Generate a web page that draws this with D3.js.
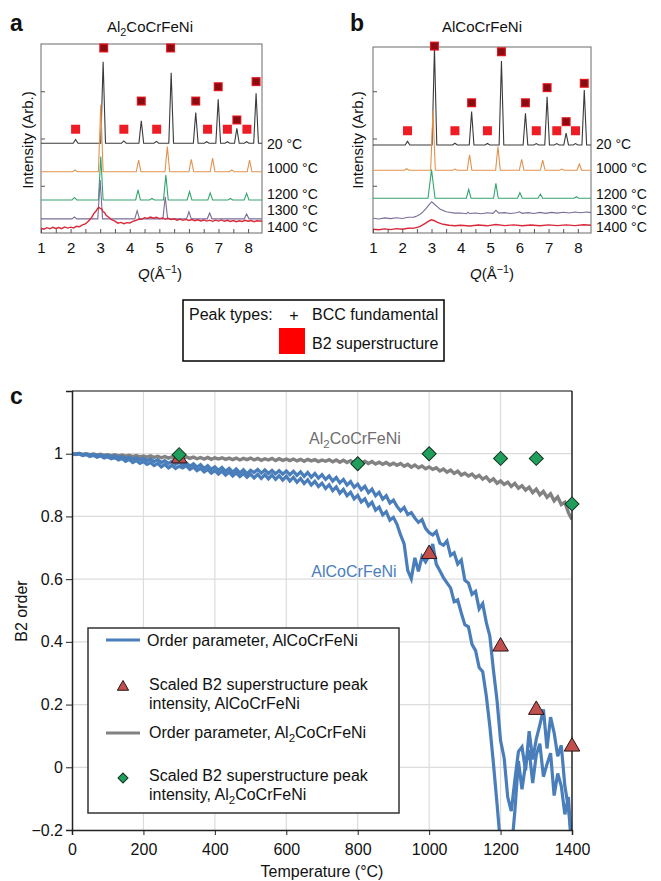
<!DOCTYPE html>
<html lang="en">
<head>
<meta charset="UTF-8">
<title>B2 order in AlCoCrFeNi alloys</title>
<script src="https://cdn.jsdelivr.net/npm/d3@7"></script>
<style>
body { margin: 0; background: #fff; }
svg { font-family: "Liberation Sans", Arial, Helvetica, sans-serif; }
text { fill: #111; }
</style>
</head>
<body>
<script>
// ---------- panels a, b : diffraction traces ----------
var tempLabels = ["20 °C", "1000 °C", "1200 °C", "1300 °C", "1400 °C"];
var traceColors = ["#3a3a3a", "#e3924e", "#34a46e", "#7a6c97", "#d8283a"];
var qTicks = [1, 2, 3, 4, 5, 6, 7, 8];

// baseline intensity of the sharp-peak traces (arb. units 0-100)
var baseA = [47.5, 32.4, 17.5, 7.5];
var baseB = [46.6, 33.2, 18.4];

// peaks: [Q, top intensity, optional half width]
var peaksA20 = [[2.17, 49.5], [3.1, 90.6], [3.8, 48.7], [4.39, 59.4], [4.9, 48.5], [5.4, 84.8], [6.23, 63.7],
    [6.6, 48.3], [6.99, 70.7], [7.3, 48.3], [7.62, 55.4], [7.95, 48.3], [8.27, 73.9]];
var peaksA1000 = [[2.15, 33.4], [3.02, 67.8], [4.3, 38.6], [5.27, 45.7], [6.08, 39], [6.8, 39.6], [7.45, 33.4], [8.05, 38.6]];
var peaksA1200 = [[2.13, 18.8], [3.02, 40.4], [4.28, 22.8], [4.75, 18.3], [5.22, 30.7], [6.02, 21.9], [6.72, 21.2], [7.4, 18.3], [7.95, 21]];
var peaksA1300 = [[2.13, 8.5], [3.0, 28], [4.25, 11.8], [5.2, 19.2], [6.0, 11.3], [6.7, 10.6], [7.95, 10]];
var traceA1400 = [[1.0, 2.5], [1.1, 2.0], [1.2, 2.8], [1.3, 2.2], [1.4, 3.0], [1.5, 2.4], [1.6, 2.9], [1.7, 2.3], [1.8, 3.2],
    [1.9, 2.6], [2.0, 3.1], [2.1, 2.7], [2.2, 3.6], [2.3, 3.3], [2.4, 4.3], [2.5, 4.8], [2.6, 6.2], [2.7, 7.9], [2.8, 10.6],
    [2.85, 11.4], [2.9, 12.6], [2.95, 13.6], [3.0, 13.0], [3.05, 12.8], [3.1, 11.2], [3.15, 10.8], [3.2, 9.4], [3.3, 8.2],
    [3.4, 6.9], [3.5, 6.3], [3.6, 5.2], [3.7, 5.6], [3.8, 4.9], [3.9, 5.5], [4.0, 5.3], [4.1, 6.2], [4.2, 6.6], [4.3, 7.4],
    [4.4, 7.2], [4.5, 8.1], [4.6, 7.7], [4.7, 8.4], [4.8, 7.8], [4.9, 8.3], [5.0, 7.6], [5.1, 8.0], [5.2, 7.3], [5.3, 7.8],
    [5.4, 7.1], [5.5, 7.5], [5.6, 6.8], [5.7, 7.3], [5.8, 6.7], [5.9, 7.2], [6.0, 6.6], [6.1, 7.1], [6.2, 6.5], [6.3, 7.0],
    [6.4, 6.4], [6.5, 6.9], [6.6, 6.3], [6.7, 6.8], [6.8, 6.2], [6.9, 6.8], [7.0, 6.3], [7.1, 6.9], [7.2, 6.2], [7.3, 6.7],
    [7.4, 6.1], [7.5, 6.6], [7.6, 6.0], [7.7, 6.5], [7.8, 6.1], [7.9, 6.7], [8.0, 6.2], [8.1, 6.6], [8.2, 6.0], [8.3, 6.5], [8.47, 6.2]];

var peaksB20 = [[2.18, 48.5], [3.1, 98], [3.8, 47.5], [4.37, 64.2], [4.91, 47.4], [5.39, 91], [6.21, 63.3],
    [6.58, 47.3], [6.95, 72.1], [7.28, 47.3], [7.6, 52.9], [7.92, 47.3], [8.22, 75.7]];
var peaksB1000 = [[2.15, 34], [3.05, 65], [3.8, 33.8], [4.3, 41.3], [5.27, 45.7], [6.08, 39], [6.8, 38.6], [7.45, 33.8], [8.05, 36.5]];
var peaksB1200 = [[3.0, 33.5, 0.12], [4.27, 23.1], [5.2, 26.3], [6.02, 21.3], [6.72, 20.6], [7.95, 19.2]];
var traceB1300 = [[1.0, 7.8], [1.2, 7.4], [1.4, 8.0], [1.6, 7.6], [1.8, 8.1], [2.0, 7.7], [2.2, 8.3], [2.4, 8.4], [2.5, 9.0],
    [2.6, 9.8], [2.7, 11.0], [2.8, 12.8], [2.9, 14.6], [3.0, 16.4], [3.05, 16.0], [3.1, 15.2], [3.2, 13.8], [3.3, 12.6],
    [3.4, 11.9], [3.5, 11.2], [3.6, 11.0], [3.8, 10.5], [4.0, 10.6], [4.2, 10.2], [4.25, 11.0], [4.3, 10.3], [4.5, 10.6],
    [4.7, 10.2], [4.9, 10.7], [5.1, 10.4], [5.2, 12.0], [5.3, 10.5], [5.5, 10.8], [5.7, 10.3], [5.9, 10.7], [6.0, 11.2],
    [6.1, 10.4], [6.3, 10.8], [6.5, 10.3], [6.7, 10.9], [6.9, 10.4], [7.1, 10.9], [7.3, 10.5], [7.5, 11.0], [7.7, 10.6],
    [7.9, 11.1], [8.1, 10.7], [8.3, 11.1], [8.45, 10.8]];
var traceB1400 = [[1.0, 2.0], [1.2, 1.7], [1.4, 2.2], [1.6, 1.8], [1.8, 2.3], [2.0, 2.0], [2.2, 2.5], [2.4, 2.6], [2.6, 3.4],
    [2.8, 5.2], [2.9, 6.3], [3.0, 7.0], [3.1, 6.5], [3.2, 5.6], [3.4, 4.6], [3.6, 4.1], [3.8, 3.8], [4.0, 4.1], [4.3, 3.7],
    [4.6, 4.2], [4.9, 3.8], [5.2, 4.5], [5.5, 3.9], [5.8, 4.3], [6.1, 3.8], [6.4, 4.2], [6.7, 3.8], [7.0, 4.3], [7.3, 3.9],
    [7.6, 4.3], [7.9, 3.9], [8.2, 4.4], [8.45, 4.1]];

// peak markers [Q, intensity]: B2 superstructure only, and B2 + BCC fundamental
var b2OnlyA = [[2.17, 54.9], [3.8, 54.9], [4.91, 54.9], [6.63, 54.9], [7.3, 54.9], [7.96, 54.9]];
var b2BccA = [[3.12, 97.9], [5.38, 97.9], [4.39, 69.8], [6.23, 69.8], [6.99, 77.4], [7.62, 59.8], [8.27, 80.1]];
var b2OnlyB = [[2.18, 54.1], [3.8, 54.1], [4.91, 54.1], [6.58, 54.1], [7.28, 54.1], [7.92, 54.1]];
var b2BccB = [[3.1, 98.9], [5.39, 95.9], [4.37, 68.9], [6.21, 68.9], [6.95, 76.9], [7.6, 58.9], [8.22, 79.2]];

// ---------- panel c : B2 order vs temperature (10 °C steps from 0 to 1400) ----------
var orderStep = 10;
var orderAlUp = [
    1.000, 0.998, 1.001, 0.997, 0.999, 0.995, 0.998, 0.994, 0.996, 0.992, 0.995,
    0.990, 0.993, 0.988, 0.991, 0.985, 0.989, 0.983, 0.987, 0.980, 0.985,
    0.978, 0.983, 0.975, 0.981, 0.972, 0.978, 0.969, 0.976, 0.966, 0.973,
    0.964, 0.971, 0.960, 0.968, 0.957, 0.965, 0.953, 0.962, 0.950, 0.958,
    0.947, 0.956, 0.944, 0.953, 0.941, 0.951, 0.939, 0.949, 0.936, 0.947,
    0.940, 0.950, 0.938, 0.948, 0.937, 0.947, 0.936, 0.946, 0.935, 0.945,
    0.933, 0.944, 0.931, 0.942, 0.928, 0.940, 0.925, 0.937, 0.922, 0.933,
    0.918, 0.929, 0.913, 0.924, 0.907, 0.918, 0.900, 0.911, 0.893, 0.903,
    0.885, 0.896, 0.876, 0.887, 0.866, 0.877, 0.855, 0.866, 0.843, 0.852,
    0.832, 0.818, 0.829, 0.806, 0.812, 0.795, 0.781, 0.790, 0.762, 0.748,
    0.741, 0.752, 0.715, 0.708, 0.722, 0.676, 0.684, 0.648, 0.661, 0.596,
    0.588, 0.552, 0.561, 0.505, 0.522, 0.462, 0.418, 0.310, 0.214, 0.085,
    0.030, -0.095, -0.140, -0.040, 0.050, 0.065, -0.010, 0.115, 0.025, 0.090,
    0.135, 0.185, 0.060, 0.160, 0.110, 0.035, 0.070, -0.060, -0.130, -0.250];
var orderAlDown = [
    1.000, 0.997, 0.999, 0.994, 0.997, 0.991, 0.995, 0.989, 0.993, 0.986, 0.990,
    0.984, 0.988, 0.980, 0.985, 0.976, 0.982, 0.972, 0.978, 0.969, 0.975,
    0.966, 0.972, 0.962, 0.969, 0.958, 0.966, 0.955, 0.963, 0.953, 0.960,
    0.955, 0.962, 0.950, 0.957, 0.946, 0.953, 0.942, 0.950, 0.938, 0.946,
    0.935, 0.944, 0.932, 0.941, 0.929, 0.939, 0.927, 0.937, 0.925, 0.935,
    0.923, 0.934, 0.921, 0.933, 0.920, 0.932, 0.918, 0.930, 0.916, 0.928,
    0.913, 0.925, 0.909, 0.921, 0.905, 0.917, 0.900, 0.912, 0.895, 0.906,
    0.889, 0.901, 0.882, 0.894, 0.874, 0.886, 0.866, 0.877, 0.856, 0.867,
    0.846, 0.856, 0.834, 0.845, 0.820, 0.830, 0.805, 0.815, 0.788, 0.797,
    0.775, 0.741, 0.712, 0.628, 0.601, 0.668, 0.625, 0.672, 0.655, 0.676,
    0.712, 0.648, 0.627, 0.605, 0.588, 0.572, 0.528, 0.534, 0.492, 0.455,
    0.448, 0.392, 0.372, 0.318, 0.305, 0.228, 0.130, 0.012, -0.115, -0.250,
    -0.300, -0.210, -0.270, -0.140, 0.020, -0.070, 0.010, 0.055, -0.050, 0.040,
    0.075, -0.030, 0.010, 0.045, -0.090, -0.020, -0.060, -0.150, -0.095, -0.280];
var orderAl2 = [
    1.000, 0.999, 1.001, 0.998, 1.000, 0.997, 0.999, 0.996, 0.998, 0.995, 0.997,
    0.994, 0.997, 0.993, 0.996, 0.992, 0.995, 0.991, 0.994, 0.990, 0.993,
    0.989, 0.993, 0.988, 0.992, 0.987, 0.991, 0.986, 0.990, 0.985, 0.989,
    0.986, 0.990, 0.985, 0.989, 0.984, 0.988, 0.983, 0.988, 0.982, 0.987,
    0.983, 0.987, 0.982, 0.986, 0.981, 0.986, 0.980, 0.985, 0.981, 0.986,
    0.980, 0.985, 0.979, 0.984, 0.980, 0.985, 0.978, 0.984, 0.979, 0.983,
    0.978, 0.983, 0.977, 0.982, 0.976, 0.982, 0.977, 0.981, 0.975, 0.980,
    0.976, 0.981, 0.974, 0.980, 0.973, 0.979, 0.972, 0.978, 0.971, 0.977,
    0.970, 0.976, 0.969, 0.975, 0.967, 0.973, 0.966, 0.972, 0.964, 0.970,
    0.963, 0.969, 0.960, 0.966, 0.957, 0.964, 0.955, 0.961, 0.952, 0.958,
    0.950, 0.955, 0.945, 0.951, 0.941, 0.948, 0.937, 0.944, 0.932, 0.938,
    0.929, 0.935, 0.924, 0.931, 0.919, 0.926, 0.912, 0.920, 0.906, 0.913,
    0.902, 0.909, 0.896, 0.905, 0.890, 0.898, 0.884, 0.893, 0.876, 0.887,
    0.869, 0.880, 0.861, 0.872, 0.850, 0.862, 0.838, 0.845, 0.812, 0.790];

var triTemps = [300, 1000, 1200, 1300, 1400];
var triValues = [0.985, 0.68, 0.385, 0.183, 0.066];
var diaTemps = [300, 800, 1000, 1200, 1300, 1400];
var diaValues = [0.997, 0.968, 1.0, 0.985, 0.985, 0.84];
var tempTicks = [0, 200, 400, 600, 800, 1000, 1200, 1400];
var orderTicks = [-0.2, 0, 0.2, 0.4, 0.6, 0.8, 1];

var blue = "#4a7ebb", gray = "#828282", triFill = "#c0504d", diaFill = "#1f9e5c";

var svg = d3.select("body").append("svg").attr("width", 661).attr("height", 881);
svg.append("rect").attr("width", 661).attr("height", 881).attr("fill", "#fff");

// text with one subscript digit after "_"
function formula(t, s) {
    var m = s.split("_");
    if (m.length === 1) { t.text(s); return t; }
    t.append("tspan").text(m[0]);
    t.append("tspan").attr("font-size", "72%").attr("dy", 4).text(m[1].charAt(0));
    t.append("tspan").attr("dy", -4).text(m[1].slice(1));
    return t;
}

function peakTrace(base, peaks, qMax) {
    var pts = [[1, base]];
    peaks.forEach(function (p) {
        var hw = p[2] || 0.08;
        pts.push([p[0] - hw, base], [p[0], p[1]], [p[0] + hw, base]);
    });
    pts.push([qMax, base]);
    return pts;
}

function drawXrd(p) {
    var x = d3.scaleLinear().domain([1, p.qMax]).range([p.left, p.right]);
    var y = d3.scaleLinear().domain([0, 100]).range([233, 44]);
    var g = svg.append("g");

    g.append("rect").attr("x", p.left).attr("y", p.top).attr("width", p.right - p.left).attr("height", 233 - p.top)
        .attr("fill", "none").attr("stroke", "#6a6a6a").attr("stroke-width", 1);

    var line = d3.line().x(function (d) { return x(d[0]); }).y(function (d) { return y(d[1]); });
    p.traces.forEach(function (t, i) {
        g.append("path").attr("d", line(t)).attr("fill", "none")
            .attr("stroke", traceColors[i]).attr("stroke-width", i === 4 ? 1.4 : 1.1);
    });

    g.selectAll(".b2").data(p.b2).enter().append("rect")
        .attr("x", function (d) { return x(d[0]) - 4.5; }).attr("y", function (d) { return y(d[1]) - 4.5; })
        .attr("width", 9).attr("height", 9).attr("fill", "#ee1c24");
    var both = g.selectAll(".both").data(p.both).enter().append("g")
        .attr("transform", function (d) { return "translate(" + x(d[0]) + "," + y(d[1]) + ")"; });
    both.append("rect").attr("x", -4.5).attr("y", -4.5).attr("width", 9).attr("height", 9).attr("fill", "#e3161e");
    both.append("rect").attr("x", -3.3).attr("y", -3.3).attr("width", 6.6).attr("height", 6.6).attr("fill", "#8a0b12");

    var xAxis = d3.axisBottom(x).tickValues(d3.range(1, 8.01, 0.5)).tickSize(-4).tickPadding(9.5)
        .tickFormat(function (d) { return qTicks.indexOf(d) >= 0 ? d : ""; });
    var ax = g.append("g").attr("transform", "translate(0,233)").call(xAxis);
    ax.select(".domain").remove();
    ax.selectAll("line").attr("stroke", "#555");
    ax.selectAll("text").attr("font-size", 15).attr("font-family", null).style("fill", "#111");

    var yAxis = d3.axisLeft(y).tickValues([25, 50, 75]).tickSize(-4).tickFormat("");
    var ay = g.append("g").attr("transform", "translate(" + p.left + ",0)").call(yAxis);
    ay.select(".domain").remove();
    ay.selectAll("line").attr("stroke", "#555");

    tempLabels.forEach(function (t, i) {
        g.append("text").attr("x", p.right + 5).attr("y", p.labelY[i]).attr("dy", "0.35em")
            .attr("font-size", 14).text(t);
    });

    g.append("text").attr("x", p.letterX).attr("y", 31).attr("font-size", 23).attr("font-weight", "bold").text(p.letter);
    formula(g.append("text").attr("x", p.titleX).attr("y", 32).attr("text-anchor", "middle").attr("font-size", 15), p.title);

    var ql = g.append("text").attr("x", p.qLabelX).attr("y", 279).attr("text-anchor", "middle").attr("font-size", 15);
    ql.append("tspan").attr("font-style", "italic").text("Q");
    ql.append("tspan").text("(Å");
    ql.append("tspan").attr("font-size", "72%").attr("dy", -6).text("−1");
    ql.append("tspan").attr("dy", 6).text(")");

    g.append("text").attr("transform", "translate(" + p.yLabelX + ",140) rotate(-90)")
        .attr("text-anchor", "middle").attr("dy", "0.35em").attr("font-size", 15).text("Intensity (Arb.)");
}

drawXrd({
    left: 41, right: 262, top: 44, qMax: 8.47, letter: "a", letterX: 10, title: "Al_2CoCrFeNi", titleX: 150,
    qLabelX: 160, yLabelX: 28, labelY: [144, 168, 194.5, 210.5, 227],
    traces: [peakTrace(baseA[0], peaksA20, 8.47), peakTrace(baseA[1], peaksA1000, 8.47),
        peakTrace(baseA[2], peaksA1200, 8.47), peakTrace(baseA[3], peaksA1300, 8.47), traceA1400],
    b2: b2OnlyA, both: b2BccA
});
drawXrd({
    left: 373, right: 591, top: 47, qMax: 8.45, letter: "b", letterX: 350, title: "AlCoCrFeNi", titleX: 482,
    qLabelX: 492, yLabelX: 358, labelY: [144, 168, 194.5, 210.5, 227],
    traces: [peakTrace(baseB[0], peaksB20, 8.45), peakTrace(baseB[1], peaksB1000, 8.45),
        peakTrace(baseB[2], peaksB1200, 8.45), traceB1300, traceB1400],
    b2: b2OnlyB, both: b2BccB
});

// peak type key
var key = svg.append("g");
key.append("rect").attr("x", 183).attr("y", 300).attr("width", 261).attr("height", 61)
    .attr("fill", "#fff").attr("stroke", "#000").attr("stroke-width", 1.5);
key.append("text").attr("x", 189).attr("y", 314).attr("dy", "0.35em").attr("font-size", 16).text("Peak types:");
key.append("text").attr("x", 294).attr("y", 315).attr("dy", "0.35em").attr("text-anchor", "middle").attr("font-size", 16).text("+");
key.append("text").attr("x", 312).attr("y", 314).attr("dy", "0.35em").attr("font-size", 16).text("BCC fundamental");
key.append("rect").attr("x", 279).attr("y", 328).attr("width", 26).attr("height", 26).attr("fill", "#ff0000");
key.append("text").attr("x", 312).attr("y", 343).attr("dy", "0.35em").attr("font-size", 16).text("B2 superstructure");

// ---------- panel c ----------
var cx = d3.scaleLinear().domain([0, 1400]).range([72, 572]);
var cy = d3.scaleLinear().domain([-0.2, 1.2]).range([830, 391]);
var c = svg.append("g");

c.append("defs").append("clipPath").attr("id", "clipc").append("rect")
    .attr("x", 72).attr("y", 391).attr("width", 500).attr("height", 439);

c.selectAll(".vg").data(tempTicks.slice(1, -1)).enter().append("line")
    .attr("x1", function (d) { return cx(d); }).attr("x2", function (d) { return cx(d); })
    .attr("y1", 391).attr("y2", 830).attr("stroke", "#dcdcdc").attr("stroke-width", 1.2);
c.selectAll(".hg").data(orderTicks.slice(1)).enter().append("line")
    .attr("y1", function (d) { return cy(d); }).attr("y2", function (d) { return cy(d); })
    .attr("x1", 72).attr("x2", 572).attr("stroke", "#dcdcdc").attr("stroke-width", 1.2);

var oline = d3.line().x(function (d, i) { return cx(i * orderStep); }).y(function (d) { return cy(d); });
var lines = c.append("g").attr("clip-path", "url(#clipc)");
lines.append("path").attr("d", oline(orderAl2)).attr("fill", "none").attr("stroke", gray).attr("stroke-width", 3.4);
lines.append("path").attr("d", oline(orderAlDown)).attr("fill", "none").attr("stroke", blue).attr("stroke-width", 3.2);
lines.append("path").attr("d", oline(orderAlUp)).attr("fill", "none").attr("stroke", blue).attr("stroke-width", 3.2);

// frame
c.append("line").attr("x1", 72).attr("x2", 572).attr("y1", 391).attr("y2", 391).attr("stroke", "#5a5a5a").attr("stroke-width", 1.5);
c.append("line").attr("x1", 572).attr("x2", 572).attr("y1", 391).attr("y2", 830).attr("stroke", "#222").attr("stroke-width", 1.5);

var tri = d3.symbol().type(d3.symbolTriangle).size(105);
c.selectAll(".tri").data(triTemps).enter().append("path").attr("d", tri)
    .attr("transform", function (d, i) { return "translate(" + cx(d) + "," + cy(triValues[i]) + ")"; })
    .attr("fill", triFill).attr("stroke", "#2a1414").attr("stroke-width", 1);
var dia = d3.symbol().type(d3.symbolSquare).size(98);
c.selectAll(".dia").data(diaTemps).enter().append("path").attr("d", dia)
    .attr("transform", function (d, i) { return "translate(" + cx(d) + "," + cy(diaValues[i]) + ") rotate(45)"; })
    .attr("fill", diaFill).attr("stroke", "#14301e").attr("stroke-width", 1);

var cax = c.append("g").attr("transform", "translate(0,830)")
    .call(d3.axisBottom(cx).tickValues(tempTicks).tickSize(5).tickPadding(8.5).tickFormat(d3.format("d")));
var cay = c.append("g").attr("transform", "translate(72,0)")
    .call(d3.axisLeft(cy).tickValues(orderTicks).tickSize(6).tickPadding(3).tickFormat(d3.format("~g")));
[cax, cay].forEach(function (a) {
    a.select(".domain").attr("stroke", "#222").attr("stroke-width", 1.5);
    a.selectAll("line").attr("stroke", "#222");
    a.selectAll("text").attr("font-size", 16).attr("font-family", null).style("fill", "#111");
});

c.append("text").attr("x", 10).attr("y", 404).attr("font-size", 23).attr("font-weight", "bold").text("c");
c.append("text").attr("x", 322).attr("y", 877).attr("text-anchor", "middle").attr("font-size", 16).text("Temperature (°C)");
c.append("text").attr("transform", "translate(21,611) rotate(-90)").attr("text-anchor", "middle")
    .attr("dy", "0.35em").attr("font-size", 16).text("B2 order");

formula(c.append("text").attr("x", 355).attr("y", 444).attr("text-anchor", "middle").attr("font-size", 16)
    .style("fill", "#6e6e6e"), "Al_2CoCrFeNi");
c.append("text").attr("x", 354).attr("y", 577).attr("text-anchor", "middle").attr("font-size", 16)
    .style("fill", blue).text("AlCoCrFeNi");

// legend
var lg = c.append("g");
lg.append("rect").attr("x", 88).attr("y", 628).attr("width", 311).attr("height", 185)
    .attr("fill", "#fff").attr("stroke", "#333").attr("stroke-width", 1.5);
lg.append("line").attr("x1", 106).attr("x2", 140).attr("y1", 640).attr("y2", 640).attr("stroke", blue).attr("stroke-width", 3);
lg.append("text").attr("x", 147).attr("y", 640).attr("dy", "0.35em").attr("font-size", 16).text("Order parameter, AlCoCrFeNi");
lg.append("path").attr("d", d3.symbol().type(d3.symbolTriangle).size(55)).attr("transform", "translate(123,687)")
    .attr("fill", triFill).attr("stroke", "#2a1414").attr("stroke-width", 1);
lg.append("text").attr("x", 149).attr("y", 684).attr("dy", "0.35em").attr("font-size", 16).text("Scaled B2 superstructure peak");
lg.append("text").attr("x", 149).attr("y", 703).attr("dy", "0.35em").attr("font-size", 16).text("intensity, AlCoCrFeNi");
lg.append("line").attr("x1", 106).attr("x2", 140).attr("y1", 733).attr("y2", 733).attr("stroke", gray).attr("stroke-width", 3);
formula(lg.append("text").attr("x", 149).attr("y", 738).attr("font-size", 16), "Order parameter, Al_2CoCrFeNi");
lg.append("path").attr("d", d3.symbol().type(d3.symbolSquare).size(50)).attr("transform", "translate(123,778) rotate(45)")
    .attr("fill", diaFill).attr("stroke", "#14301e").attr("stroke-width", 1);
lg.append("text").attr("x", 149).attr("y", 775).attr("dy", "0.35em").attr("font-size", 16).text("Scaled B2 superstructure peak");
formula(lg.append("text").attr("x", 149).attr("y", 800).attr("font-size", 16), "intensity, Al_2CoCrFeNi");
</script>
</body>
</html>
